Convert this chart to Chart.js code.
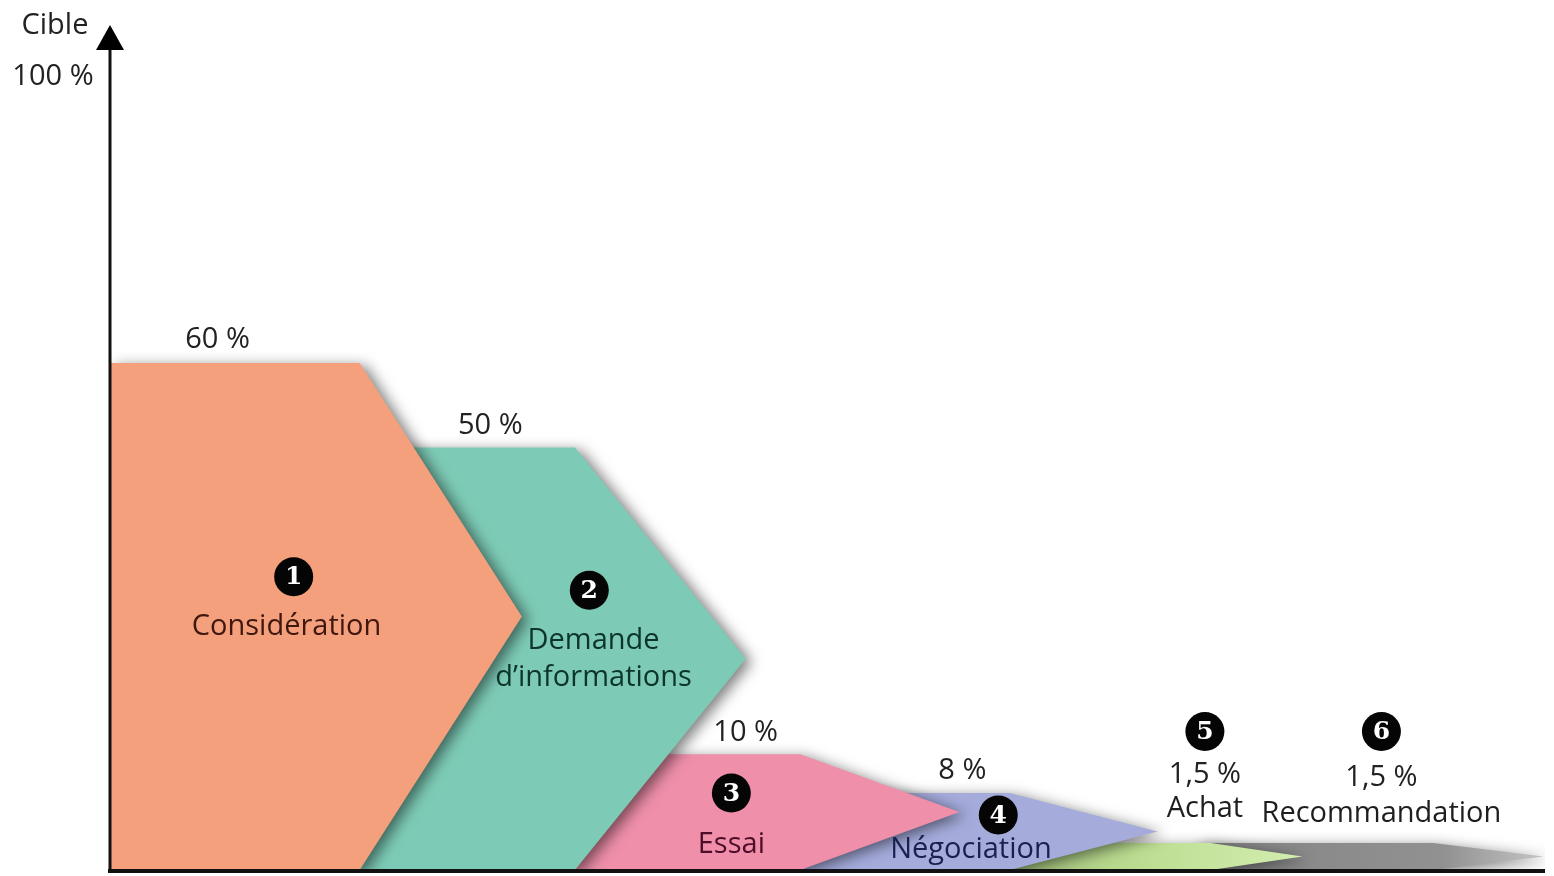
<!DOCTYPE html>
<html lang="fr">
<head>
<meta charset="utf-8">
<title>Cible – étapes</title>
<script src="https://cdn.jsdelivr.net/npm/chart.js@4.4.1/dist/chart.umd.min.js"></script>
<style>
  html, body { margin: 0; padding: 0; background: #ffffff; }
  #wrap { width: 1554px; height: 876px; }
</style>
</head>
<body>
<div id="wrap"><canvas id="c" width="1554" height="876"></canvas></div>
<script>
// ---- data ----
const stageNames = ['Considération', 'Demande\nd\u2019informations', 'Essai', 'Négociation', 'Achat', 'Recommandation'];
const stageValues = [60, 50, 10, 8, 1.5, 1.5];                 // labelled share of the target (%)
const valueLabels = ['60 %', '50 %', '10 %', '8 %', '1,5 %', '1,5 %'];
const drawnHeights = [60, 50, 13.7, 9.1, 3.2, 3.2];             // arrow heights as drawn (small stages are enlarged in the source)
const stageTopEnds = [17.4, 32.4, 48.1, 62.7, 76.7, 92.2];      // end of each arrow's flat top (x axis, % of width)
const stageTips = [28.7, 44.3, 59.2, 73.0, 83.1, 99.9];         // arrow tip position (x axis, % of width)
const stageColors = ['#F5A07C', '#7DCBB6', '#EF8FAA', '#A5ACDC', '#B9DC8F', '#8E8E8E'];
const textColors = ['#3e170f', '#0c342c', '#4e0d29', '#1a2150', '#1e1e1e', '#1e1e1e'];

// build a closed chevron outline for every stage
function chevron(i) {
  const s = i === 0 ? 0 : stageTopEnds[i - 1] - 1;
  const e = stageTopEnds[i];
  const t = stageTips[i];
  const h = drawnHeights[i];
  return [
    { x: s, y: 0 }, { x: s, y: h }, { x: e, y: h }, { x: t, y: h / 2 }, { x: e, y: 0 }, { x: s, y: 0 }
  ];
}

function gradientFor(i, fallback) {
  return (ctx) => {
    const chart = ctx.chart;
    const area = chart.chartArea;
    if (!area) return fallback;
    const xs = chart.scales.x;
    const g = chart.ctx.createLinearGradient(xs.getPixelForValue(stageTopEnds[i - 1]), 0, xs.getPixelForValue(stageTips[i]), 0);
    if (i === 4) {
      g.addColorStop(0, '#a3c27c');
      g.addColorStop(0.45, '#bcdd91');
      g.addColorStop(1, '#d3eeb0');
    } else {
      g.addColorStop(0, '#858585');
      g.addColorStop(0.7, '#919191');
      g.addColorStop(1, '#c4c4c4');
    }
    return g;
  };
}

const datasets = stageNames.map((name, i) => ({
  label: name.replace('\n', ' '),
  data: chevron(i),
  showLine: true,
  fill: 'shape',
  tension: 0,
  borderWidth: 0,
  borderColor: 'rgba(0,0,0,0)',
  pointRadius: 0,
  pointHoverRadius: 0,
  backgroundColor: i >= 4 ? gradientFor(i, stageColors[i]) : stageColors[i]
}));

// annotation anchors (axis units: x = % of width, y = % of target)
const percentAnchors = [[7.5, 62.8], [26.5, 52.6], [44.3, 16.2], [59.4, 11.7], [76.3, 11.3], [88.6, 10.9]];
const badgeAnchors = [[12.8, 34.7], [33.4, 33.1], [43.3, 9.1], [61.9, 6.5], [76.3, 16.4], [88.6, 16.4]];
const nameAnchors = [[12.3, 28.8], [33.7, 24.9], [43.3, 3.0], [60.0, 2.4], [76.3, 7.2], [88.6, 6.7]];

const FONT = '"Open Sans", "Lato", sans-serif';

const shadowPlugin = {
  id: 'softShadow',
  beforeDatasetsDraw(chart) {
    const c = chart.ctx;
    c.save();
    c.shadowColor = 'rgba(0,0,0,0.5)';
    c.shadowBlur = 14;
    c.shadowOffsetX = 6;
    c.shadowOffsetY = 3;
  },
  afterDatasetsDraw(chart) {
    chart.ctx.restore();
  }
};

const decorPlugin = {
  id: 'decor',
  afterDatasetsDraw(chart) {
    const c = chart.ctx;
    const xs = chart.scales.x, ys = chart.scales.y;
    const area = chart.chartArea;
    const X = v => xs.getPixelForValue(v);
    const Y = v => ys.getPixelForValue(v);
    c.save();
    // axes
    c.strokeStyle = '#111';
    c.lineWidth = 3;
    c.beginPath();
    c.moveTo(area.left, area.bottom);
    c.lineTo(area.left, Y(100) + 22);
    c.stroke();
    c.fillStyle = '#000';
    c.beginPath();
    c.moveTo(area.left, Y(100));
    c.lineTo(area.left - 14, Y(100) + 25);
    c.lineTo(area.left + 14, Y(100) + 25);
    c.closePath();
    c.fill();
    c.lineWidth = 4;
    c.beginPath();
    c.moveTo(area.left - 2, area.bottom + 1);
    c.lineTo(area.right, area.bottom + 1);
    c.stroke();

    // axis titles
    c.fillStyle = '#222';
    c.textAlign = 'center';
    c.textBaseline = 'middle';
    c.font = '29px ' + FONT;
    c.fillText('Cible', 55, Y(100) + 1);
    c.fillText('100 %', 53, Y(100) + 52);

    // value labels
    c.font = '29px ' + FONT;
    percentAnchors.forEach(([x, y], i) => {
      c.fillStyle = '#222';
      c.fillText(valueLabels[i], X(x), Y(y));
    });

    // numbered badges
    badgeAnchors.forEach(([x, y], i) => {
      const px = X(x), py = Y(y);
      c.fillStyle = '#050505';
      c.beginPath();
      c.arc(px, py, 19.5, 0, Math.PI * 2);
      c.fill();
      c.fillStyle = '#ffffff';
      c.font = 'bold 25px "DejaVu Serif", "Liberation Serif", serif';
      c.fillText(String(i + 1), px, py + 1);
    });

    // stage names
    c.font = '29px ' + FONT;
    nameAnchors.forEach(([x, y], i) => {
      c.fillStyle = textColors[i];
      const lines = stageNames[i].split('\n');
      lines.forEach((ln, k) => {
        c.fillText(ln, X(x), Y(y) + (k - (lines.length - 1) / 2) * 37);
      });
    });
    c.restore();
  }
};

new Chart(document.getElementById('c'), {
  type: 'scatter',
  data: { datasets },
  options: {
    responsive: false,
    animation: false,
    events: [],
    layout: { padding: { left: 110, right: 9, top: 25, bottom: 6 } },
    plugins: { legend: { display: false }, tooltip: { enabled: false } },
    scales: {
      x: { type: 'linear', min: 0, max: 100, display: false },
      y: { type: 'linear', min: 0, max: 100, display: false }
    }
  },
  plugins: [shadowPlugin, decorPlugin]
});
</script>
</body>
</html>
